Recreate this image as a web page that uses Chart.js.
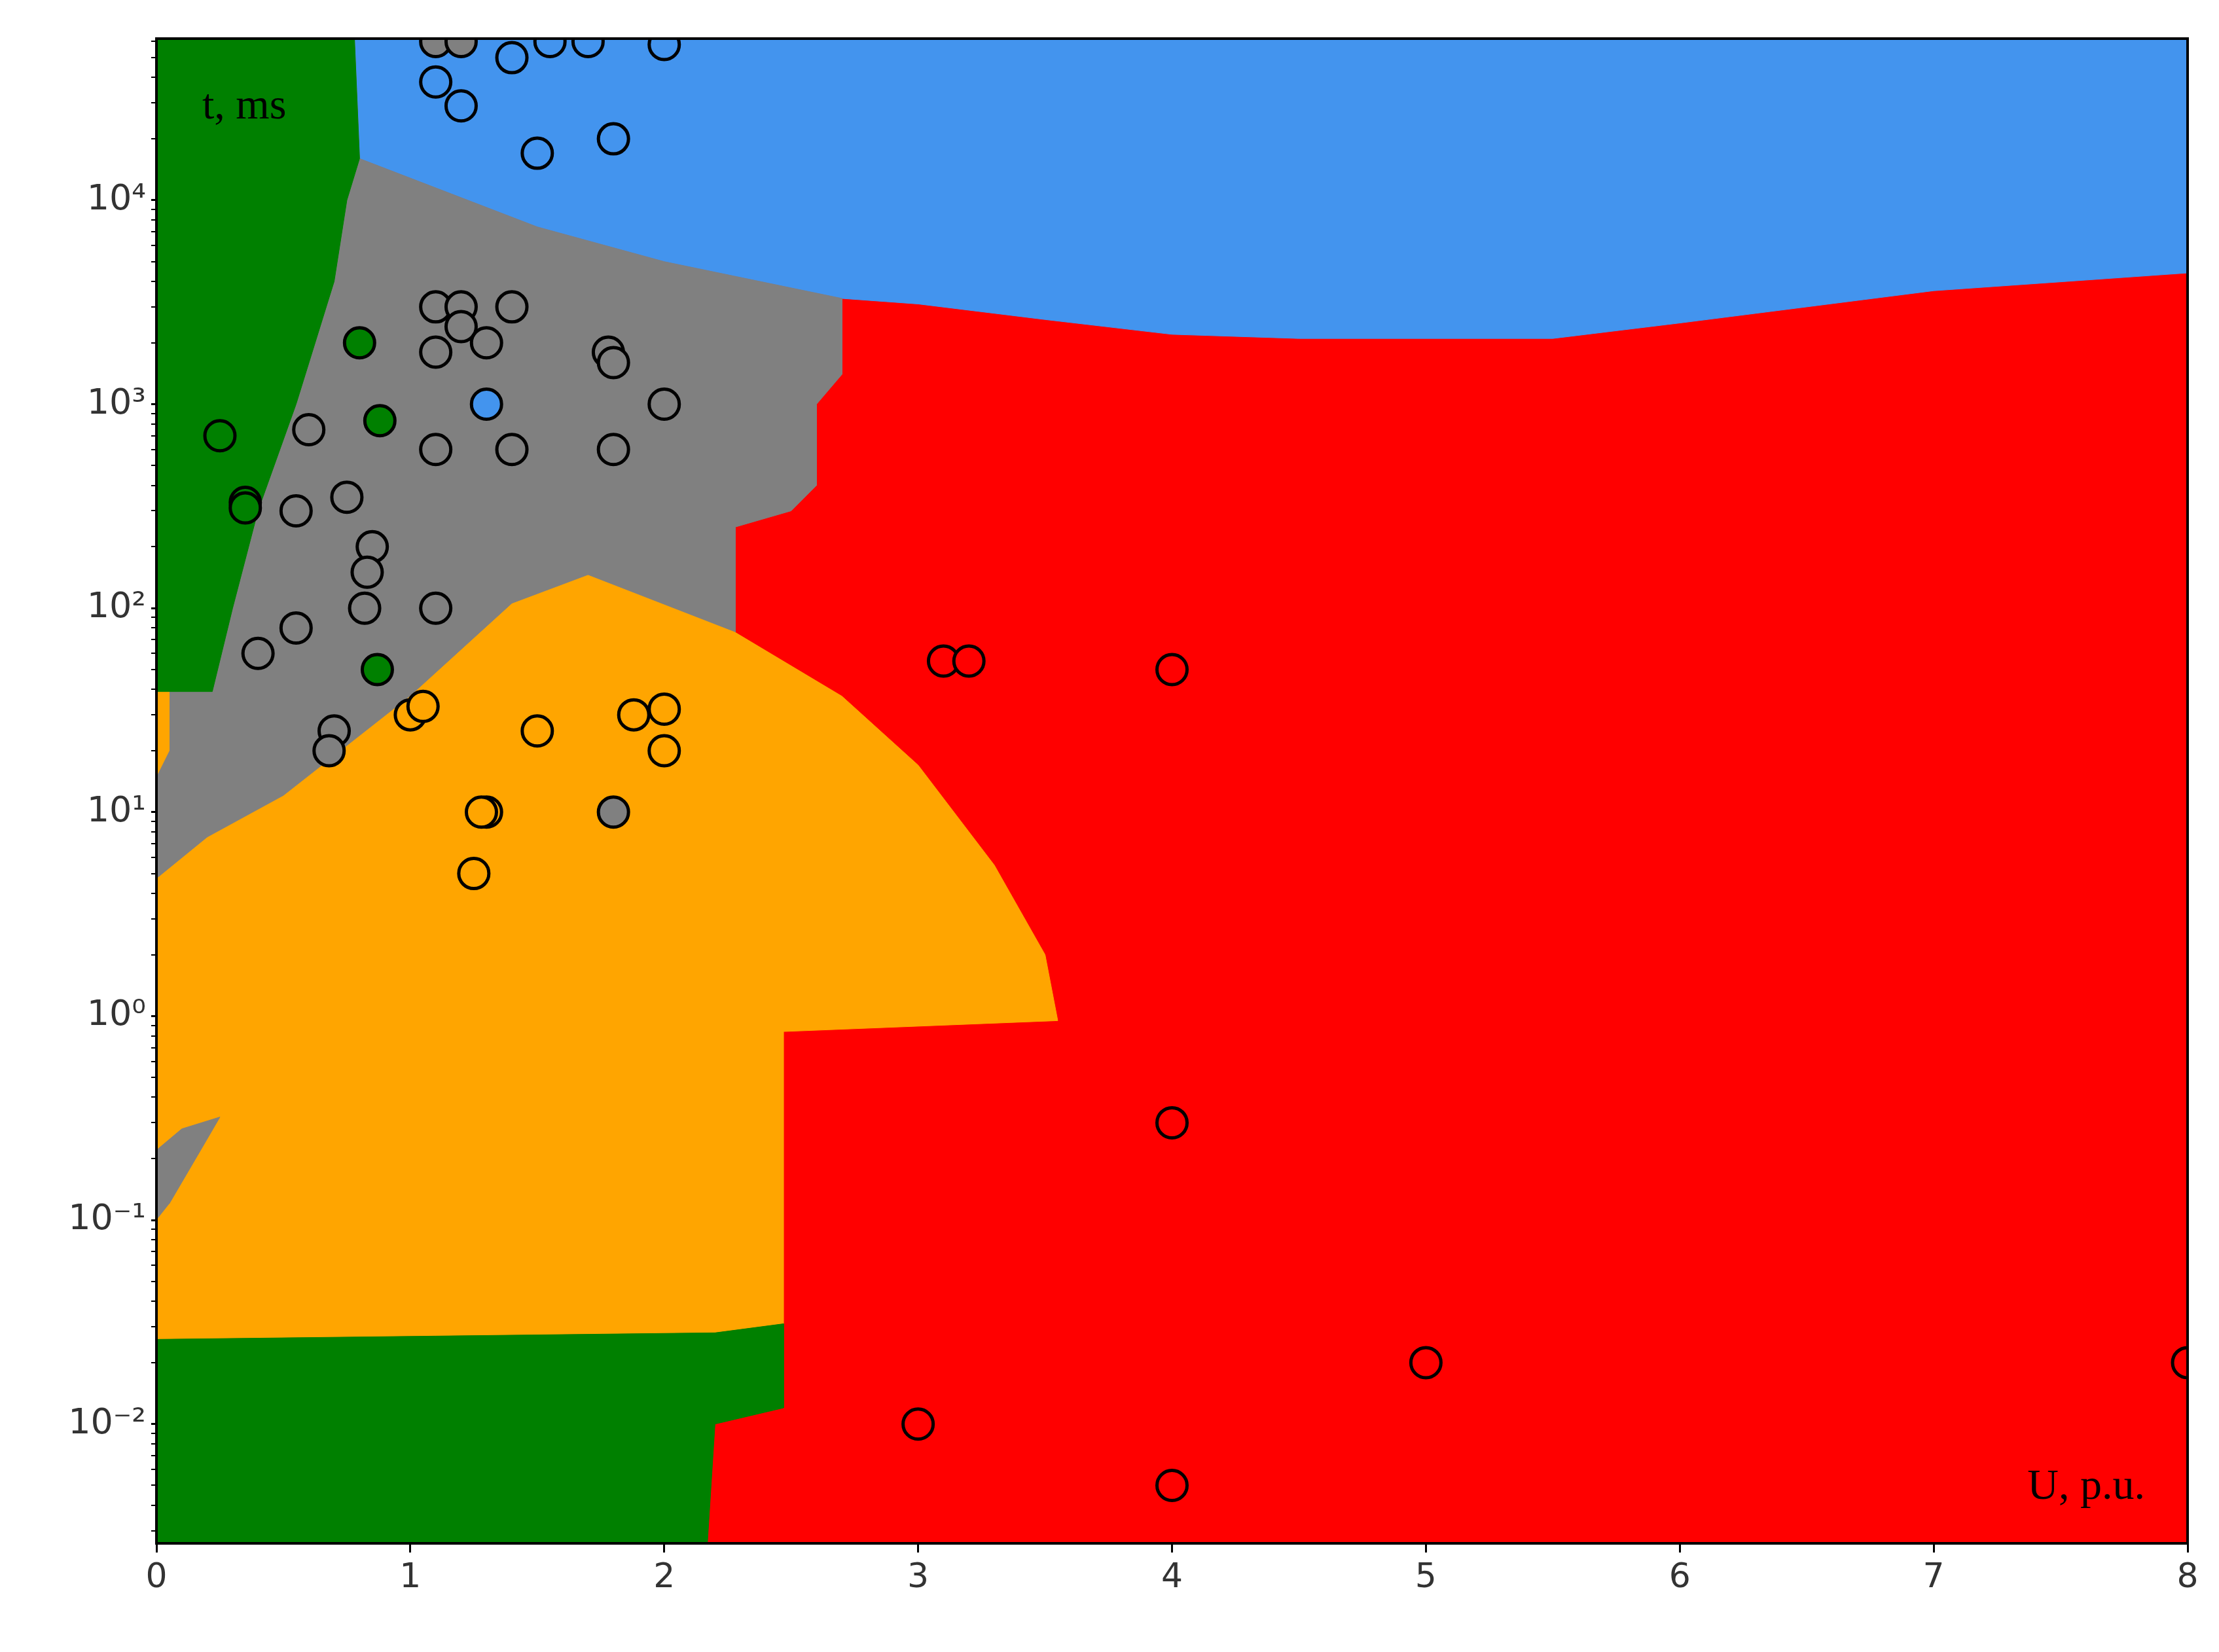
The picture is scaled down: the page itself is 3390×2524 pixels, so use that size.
<!DOCTYPE html>
<html>
<head>
<meta charset="utf-8">
<script src="https://cdn.jsdelivr.net/npm/chart.js@4.4.1/dist/chart.umd.min.js"></script>
<style>
  html, body { margin: 0; padding: 0; background: #fff; }
  #wrap { width: 3390px; height: 2524px; }
</style>
</head>
<body>
<div id="wrap"><canvas id="c" width="3390" height="2524"></canvas></div>
<script>
// axis limits
const xMin = 0, xMax = 8;
const tMin = 0.0026, tMax = 62000;
const xTicks = [0, 1, 2, 3, 4, 5, 6, 7, 8];
const tDecades = [-2, -1, 0, 1, 2, 3, 4];

// decision regions (U, t) polygons
const redRegion = [[0, tMin], [0, tMax], [8, tMax], [8, tMin]];
const blueRegion = [[0.78, tMax], [0.8, 16000], [1.5, 7400], [2.0, 5000], [2.7, 3300], [3.0, 3100],
  [3.5, 2600], [4.0, 2200], [4.5, 2100], [5.5, 2100], [6.0, 2500], [7.0, 3600], [8.0, 4400], [8.0, tMax]];
const grayRegion = [[0.78, tMax], [0.8, 16000], [1.5, 7400], [2.0, 5000], [2.7, 3300], [2.7, 1400],
  [2.6, 1000], [2.6, 400], [2.5, 300], [2.28, 250], [2.28, 76], [0, 4.7], [0, 39]];
const grayWedge = [[0, 0.1], [0, 0.22], [0.1, 0.28], [0.25, 0.32], [0.2, 0.25], [0.05, 0.12]];
const orangeRegion = [[0, 39], [0.05, 39], [0.05, 20], [0, 15], [0, 0.026], [2.2, 0.028], [2.47, 0.031],
  [2.47, 0.84], [3.55, 0.95], [3.5, 2], [3.3, 5.5], [3.0, 17], [2.7, 37], [2.28, 76],
  [1.7, 145], [1.4, 105], [1.0, 37], [0.5, 12], [0.2, 7.5], [0, 4.7]];
const greenLeft = [[0, tMax], [0.78, tMax], [0.8, 16000], [0.75, 10000], [0.7, 4000], [0.55, 1000],
  [0.4, 300], [0.3, 100], [0.22, 39], [0, 39]];
const greenBottom = [[0, tMin], [0, 0.026], [2.2, 0.028], [2.47, 0.031], [2.47, 0.012], [2.2, 0.01], [2.17, tMin]];

// samples
const grayPts = [[1.1, 60000], [1.2, 60000], [1.8, 10],
  [1.1, 3000], [1.2, 3000], [1.4, 3000], [1.2, 2400], [1.1, 1800], [1.3, 2000], [1.78, 1800], [1.8, 1600],
  [2.0, 1000], [1.1, 600], [1.4, 600], [1.8, 600], [0.6, 750], [0.55, 300], [0.75, 350], [0.85, 200],
  [0.83, 150], [0.82, 100], [1.1, 100], [0.55, 80], [0.4, 60], [0.7, 25], [0.68, 20]];
const bluePts = [[1.4, 50000], [1.55, 60000], [1.7, 60000], [2.0, 58000], [1.1, 38000], [1.2, 29000],
  [1.5, 17000], [1.8, 20000], [1.3, 1000]];
const greenPts = [[0.8, 2000], [0.25, 700], [0.35, 330], [0.35, 310], [0.88, 830], [0.87, 50]];
const orangePts = [[1.0, 30], [1.05, 33], [1.5, 25], [1.88, 30], [2.0, 32], [2.0, 20], [1.3, 10], [1.28, 10], [1.25, 5]];
const redPts = [[3.1, 55], [3.2, 55], [4, 50], [4, 0.3], [5, 0.02], [8, 0.02], [3, 0.01], [4, 0.005]];

const C = { red: '#ff0000', blue: '#4394ee', gray: '#808080', orange: '#ffa500', green: '#008000' };
const xy = (arr) => arr.map(([x, y]) => ({ x, y }));

function region(data, color, order) {
  return { data: xy(data), showLine: true, fill: 'shape', backgroundColor: color, borderColor: color,
    borderWidth: 1, pointRadius: 0, order };
}
function points(data, color) {
  return { data: xy(data), backgroundColor: color, borderColor: '#000', borderWidth: 5,
    pointRadius: 23, showLine: false, order: 0 };
}

const supers = { '-': '⁻', '0': '⁰', '1': '¹', '2': '²', '3': '³', '4': '⁴' };
const pow10 = (n) => '10' + String(n).split('').map((c) => supers[c]).join('');

const labels = {
  id: 'labels',
  afterDraw(chart) {
    const { ctx, chartArea: a } = chart;
    ctx.save();
    ctx.strokeStyle = '#000';
    ctx.lineWidth = 4;
    ctx.strokeRect(a.left, a.top, a.right - a.left, a.bottom - a.top);
    ctx.fillStyle = '#000';
    ctx.font = '66px "Liberation Serif"';
    ctx.textBaseline = 'middle';
    ctx.textAlign = 'left';
    ctx.fillText('t, ms', a.left + 70, a.top + 105);
    ctx.textAlign = 'right';
    ctx.fillText('U, p.u.', a.right - 65, a.bottom - 85);
    ctx.restore();
  },
};

new Chart(document.getElementById('c'), {
  type: 'scatter',
  data: {
    datasets: [
      region(redRegion, C.red, 20),
      region(blueRegion, C.blue, 19),
      region(grayRegion, C.gray, 18),
      region(orangeRegion, C.orange, 17),
      region(grayWedge, C.gray, 16),
      region(greenLeft, C.green, 15),
      region(greenBottom, C.green, 14),
      points(grayPts, C.gray),
      points(bluePts, C.blue),
      points(greenPts, C.green),
      points(orangePts, C.orange),
      points(redPts, C.red),
    ],
  },
  options: {
    responsive: false,
    animation: false,
    layout: { padding: { top: 59, right: 48, left: 0, bottom: 0 } },
    plugins: { legend: { display: false }, tooltip: { enabled: false } },
    scales: {
      x: {
        type: 'linear', min: xMin, max: xMax,
        afterBuildTicks: (s) => { s.ticks = xTicks.map((v) => ({ value: v })); },
        afterFit: (s) => { s.height = 166; },
        grid: { drawOnChartArea: false, tickLength: 14, color: '#000', lineWidth: 3 },
        border: { color: '#000', width: 4 },
        ticks: { font: { family: 'DejaVu Sans', size: 52 }, color: '#333', padding: 8, maxRotation: 0 },
      },
      y: {
        type: 'logarithmic', min: tMin, max: tMax,
        afterBuildTicks: (s) => {
          const t = [];
          for (let e = -3; e <= 4; e++) {
            for (let m = 1; m <= 9; m++) {
              const v = m * Math.pow(10, e);
              if (v >= tMin && v <= tMax) t.push({ value: v, major: m === 1 });
            }
          }
          s.ticks = t;
        },
        afterFit: (s) => { s.width = 239; },
        grid: {
          drawOnChartArea: false, color: '#000',
          tickLength: (c) => (c.tick && c.tick.major ? 14 : 8),
          lineWidth: (c) => (c.tick && c.tick.major ? 3 : 2),
        },
        border: { color: '#000', width: 4 },
        ticks: {
          autoSkip: false,
          font: { family: 'DejaVu Sans', size: 54 }, color: '#333', padding: 8,
          callback: (v) => {
            const e = Math.round(Math.log10(v));
            return Math.abs(Math.pow(10, e) - v) < 1e-9 * Math.pow(10, e) && tDecades.includes(e) ? pow10(e) : '';
          },
        },
      },
    },
  },
  plugins: [labels],
});
</script>
</body>
</html>
